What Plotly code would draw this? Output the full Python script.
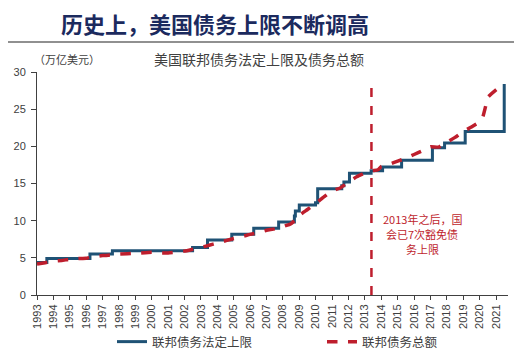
import plotly.graph_objects as go

# ---- data ----
ceiling_year = [1993.0, 1993.6, 1996.23, 1997.6, 2002.49, 2003.4, 2004.88, 2006.22,
                2007.74, 2008.7, 2008.76, 2009.0, 2009.99, 2010.12, 2011.59, 2011.72,
                2012.06, 2013.38, 2014.08, 2015.24, 2017.12, 2017.86, 2019.12, 2021.5]
ceiling_value = [4.37, 4.9, 5.5, 5.95, 6.4, 7.384, 8.184, 8.965,
                 9.815, 10.615, 11.315, 12.104, 12.394, 14.294, 14.694, 15.194,
                 16.394, 16.699, 17.212, 18.113, 19.809, 20.456, 21.988, 28.401]

debt_year = [1993.0, 1993.5, 1994.0, 1994.5, 1995.0, 1995.5, 1996.0, 1996.3, 1997.0,
             1997.6, 1998.0, 1999.0, 2000.0, 2000.5, 2001.0, 2001.5, 2002.0, 2002.5,
             2003.0, 2003.5, 2004.0, 2004.5, 2005.0, 2005.5, 2006.0, 2006.5, 2007.0,
             2007.5, 2008.0, 2008.5, 2008.75, 2009.0, 2009.5, 2010.0, 2010.5, 2011.0,
             2011.5, 2012.0, 2012.5, 2013.0, 2013.4, 2013.8, 2014.0, 2014.5, 2015.0,
             2015.5, 2016.0, 2016.5, 2017.0, 2017.5, 2017.9, 2018.0, 2018.5, 2019.0,
             2019.5, 2020.0, 2020.2, 2020.4, 2020.5, 2021.0, 2021.5]
debt_value = [4.15, 4.35, 4.55, 4.65, 4.8, 4.9, 4.95, 5.1, 5.3,
              5.4, 5.5, 5.6, 5.75, 5.65, 5.65, 5.75, 5.9, 6.15,
              6.4, 6.7, 7.0, 7.3, 7.6, 7.85, 8.15, 8.4, 8.7,
              8.9, 9.2, 9.6, 10.1, 10.7, 11.5, 12.3, 13.2, 14.0,
              14.4, 15.2, 15.9, 16.4, 16.7, 16.85, 17.3, 17.6, 18.0,
              18.4, 18.9, 19.4, 19.95, 19.9, 20.5, 20.55, 21.2, 22.0,
              22.6, 23.3, 24.0, 25.7, 26.6, 27.6, 28.4]

years = list(range(1993, 2022))
year_labels = [str(y) for y in years]

marker_year = 2013.4
marker_top = 28
note_lines = ["2013年之后，国", "会已7次豁免债", "务上限"]

BLUE = "#1F5275"
RED = "#BE1E2D"
FONT = "Noto Sans CJK SC"

# the page adds an 8px body margin; figure is sized to fill the rest of the window
OFF = 8
W, H = 522 - OFF, 361 - OFF
L, R, T, B = 37 - OFF, 14, 72 - OFF, 66
pw, ph = W - L - R, H - T - B


def px2paper(px, py):
    """reference-window pixel -> plot-area paper coords"""
    fx, fy = px - OFF, py - OFF
    return (fx - L) / pw, (H - B - fy) / ph


fig = go.Figure()
fig.add_trace(go.Scatter(x=ceiling_year, y=ceiling_value, mode="lines",
                         line=dict(color=BLUE, width=3, shape="hv"),
                         name="联邦债务法定上限"))
fig.add_trace(go.Scatter(x=debt_year, y=debt_value, mode="lines",
                         line=dict(color=RED, width=3.5, dash="dash", shape="spline", smoothing=0.4),
                         name="联邦债务总额"))

fig.add_shape(type="line", xref="x", yref="y", x0=marker_year, x1=marker_year,
              y0=0, y1=marker_top, line=dict(color=RED, width=2.5, dash="dash"))

for i, t in enumerate(note_lines):
    fig.add_annotation(x=2016.5, y=10.2 - i * 2.0, xref="x", yref="y", showarrow=False,
                       text=t, font=dict(family=FONT, size=11, color=RED))

lx, ly = px2paper(112, 342)
fig.update_layout(
    width=W, height=H,
    margin=dict(l=L, r=R, t=T, b=B, autoexpand=False),
    paper_bgcolor="white", plot_bgcolor="white",
    font=dict(family="Liberation Sans, Arial", size=11, color="#404040"),
    showlegend=True,
    legend=dict(orientation="h", x=lx, xanchor="left", y=ly, yanchor="middle",
                entrywidth=165, font=dict(family=FONT, size=12.5, color="#404040"),
                bgcolor="rgba(0,0,0,0)"),
    xaxis=dict(range=[1993, 2021.73], tickmode="array", tickvals=years, ticktext=year_labels,
               tickangle=-90, ticks="outside", ticklen=4, tickcolor="#404040",
               showline=True, linecolor="#404040", linewidth=1, showgrid=False, zeroline=False,
               automargin=False, tickfont=dict(size=11, color="#404040")),
    yaxis=dict(range=[0, 30], tickvals=[0, 5, 10, 15, 20, 25, 30],
               ticks="outside", ticklen=5, tickcolor="#404040", ticklabelstandoff=3,
               showline=True, linecolor="#404040", linewidth=1, showgrid=False, zeroline=False,
               automargin=False, tickfont=dict(size=11, color="#404040")),
)

tx, ty = px2paper(59, 23)
fig.add_annotation(x=tx, y=ty, xref="paper", yref="paper", showarrow=False,
                   text="<b>历史上，美国债务上限不断调高</b>", xanchor="left", yanchor="middle",
                   font=dict(family=FONT, size=22, color="#1B2A5E"))

ux, uy = px2paper(67, 59)
fig.add_annotation(x=ux, y=uy, xref="paper", yref="paper", showarrow=False,
                   text="（万亿美元）", xanchor="center", yanchor="middle",
                   font=dict(family=FONT, size=11, color="#404040"))
sx, sy = px2paper(259, 59)
fig.add_annotation(x=sx, y=sy, xref="paper", yref="paper", showarrow=False,
                   text="美国联邦债务法定上限及债务总额", xanchor="center",
                   yanchor="middle", font=dict(family=FONT, size=14, color="#404040"))

x0, y0 = px2paper(5, 42)
x1, _ = px2paper(518, 42)
fig.add_shape(type="line", xref="paper", yref="paper", x0=x0, x1=x1, y0=y0, y1=y0,
              line=dict(color="#222222", width=1.2))

fig.write_html("out.html")
